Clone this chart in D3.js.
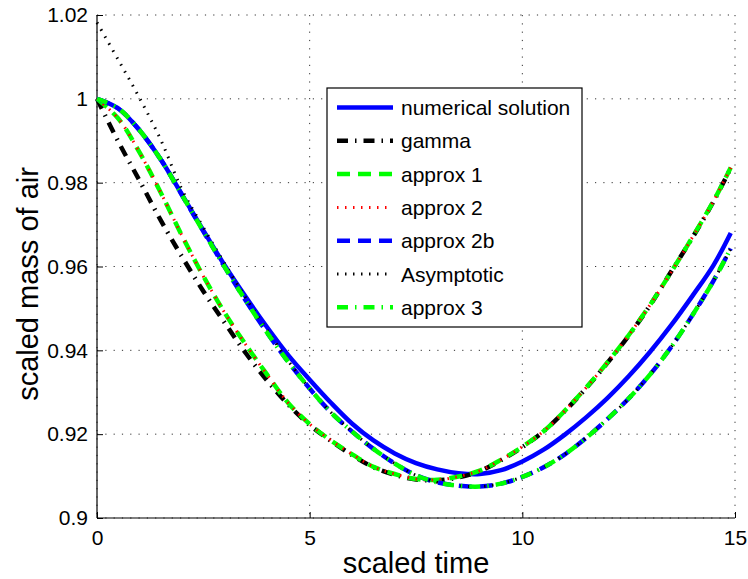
<!DOCTYPE html>
<html>
<head>
<meta charset="utf-8">
<script src="https://cdn.jsdelivr.net/npm/d3@7"></script>
<style>
	body { margin: 0; background: #fff; }
	svg { font-family: "Liberation Sans", Arial, Helvetica, sans-serif; display: block; }
</style>
</head>
<body>
<div id="chart"></div>
<script>
// values (scaled time vs scaled mass of air)
const scaledTime = [0, 0.5, 1, 1.5, 2, 2.5, 3, 3.5, 4, 4.5, 5, 5.5, 6, 6.5, 7, 7.5, 8, 8.5, 9, 9.5, 10, 10.5, 11, 11.5, 12, 12.5, 13, 13.5, 14, 14.5, 14.9];

const numericalSolution = [1.0000, 0.9977, 0.9925, 0.9855, 0.9771, 0.9686, 0.9603, 0.9527, 0.9455, 0.9388, 0.9330, 0.9275, 0.9225, 0.9185, 0.9154, 0.9131, 0.9116, 0.9107, 0.9105, 0.9114, 0.9135, 0.9163, 0.9199, 0.9240, 0.9286, 0.9338, 0.9396, 0.9460, 0.9530, 0.9604, 0.9680];
const gammaValues = [1.0000, 0.9898, 0.9805, 0.9710, 0.9623, 0.9541, 0.9466, 0.9393, 0.9328, 0.9270, 0.9222, 0.9184, 0.9150, 0.9121, 0.9103, 0.9092, 0.9090, 0.9097, 0.9112, 0.9138, 0.9169, 0.9207, 0.9255, 0.9310, 0.9370, 0.9435, 0.9507, 0.9588, 0.9669, 0.9756, 0.9835];
const approx1Values = [1.0000, 0.9953, 0.9872, 0.9776, 0.9673, 0.9577, 0.9490, 0.9413, 0.9342, 0.9274, 0.9224, 0.9185, 0.9152, 0.9122, 0.9105, 0.9093, 0.9091, 0.9099, 0.9113, 0.9139, 0.9170, 0.9207, 0.9256, 0.9311, 0.9371, 0.9436, 0.9508, 0.9587, 0.9670, 0.9757, 0.9836];
const approx2Values = [1.0000, 0.9953, 0.9872, 0.9776, 0.9673, 0.9577, 0.9490, 0.9413, 0.9342, 0.9274, 0.9224, 0.9185, 0.9152, 0.9122, 0.9105, 0.9093, 0.9091, 0.9099, 0.9113, 0.9139, 0.9170, 0.9207, 0.9256, 0.9311, 0.9371, 0.9436, 0.9508, 0.9587, 0.9670, 0.9757, 0.9836];
const approx2bValues = [1.0000, 0.9977, 0.9925, 0.9855, 0.9770, 0.9684, 0.9599, 0.9518, 0.9442, 0.9372, 0.9309, 0.9252, 0.9206, 0.9165, 0.9130, 0.9102, 0.9085, 0.9077, 0.9075, 0.9082, 0.9098, 0.9121, 0.9152, 0.9191, 0.9236, 0.9285, 0.9342, 0.9408, 0.9484, 0.9567, 0.9643];
const asymptoticValues = [1.0182, 1.0093, 1.0002, 0.9902, 0.9783, 0.9693, 0.9607, 0.9525, 0.9448, 0.9374, 0.9309, 0.9252, 0.9206, 0.9165, 0.9130, 0.9102, 0.9085, 0.9077, 0.9075, 0.9082, 0.9098, 0.9121, 0.9152, 0.9191, 0.9236, 0.9285, 0.9342, 0.9408, 0.9484, 0.9567, 0.9643];
const approx3Values = [1.0000, 0.9977, 0.9925, 0.9855, 0.9770, 0.9684, 0.9599, 0.9518, 0.9442, 0.9372, 0.9309, 0.9252, 0.9206, 0.9165, 0.9130, 0.9102, 0.9085, 0.9077, 0.9075, 0.9082, 0.9098, 0.9121, 0.9152, 0.9191, 0.9236, 0.9285, 0.9342, 0.9408, 0.9484, 0.9567, 0.9643];

const seriesNames = ['numerical solution', 'gamma', 'approx 1', 'approx 2', 'approx 2b', 'Asymptotic', 'approx 3'];
const seriesValues = [numericalSolution, gammaValues, approx1Values, approx2Values, approx2bValues, asymptoticValues, approx3Values];

const xTickValues = [0, 5, 10, 15];
const yTickValues = [0.9, 0.92, 0.94, 0.96, 0.98, 1, 1.02];
const xLabel = 'scaled time';
const yLabel = 'scaled mass of air';

// line look per series (matlab-ish)
const lineStyles = {
	'numerical solution': {color: '#0000ff', width: 4.5, dash: null},
	'gamma': {color: '#000000', width: 4.5, dash: '11,7,1.5,7'},
	'approx 1': {color: '#00ff00', width: 4.5, dash: '13,8'},
	'approx 2': {color: '#ff0000', width: 3, dash: '1.5,6.5'},
	'approx 2b': {color: '#0000ff', width: 4.5, dash: '13,8'},
	'Asymptotic': {color: '#000000', width: 3, dash: '1.5,6.5'},
	'approx 3': {color: '#00ff00', width: 4.5, dash: '11,7,1.5,7'}
};

const config = {
	containerWidth: 748,
	containerHeight: 579,
	margin: {top: 15, right: 13, bottom: 61, left: 97}
};
const width = config.containerWidth - config.margin.left - config.margin.right;
const height = config.containerHeight - config.margin.top - config.margin.bottom;

const svg = d3.select('#chart').append('svg')
	.attr('width', config.containerWidth)
	.attr('height', config.containerHeight);

const chartArea = svg.append('g')
	.attr('transform', `translate(${config.margin.left},${config.margin.top})`);

const xScale = d3.scaleLinear().domain([0, 15]).range([0, width]);
const yScale = d3.scaleLinear().domain([0.9, 1.02]).range([height, 0]);

//Dotted grid
chartArea.append('g').attr('class', 'grid')
	.selectAll('line.hgrid')
	.data(yTickValues)
	.join('line')
	.attr('x1', 0).attr('x2', width)
	.attr('y1', d => yScale(d)).attr('y2', d => yScale(d))
	.attr('stroke', '#333').attr('stroke-width', 1)
	.attr('stroke-dasharray', '1.2,7.1');

chartArea.append('g').attr('class', 'grid')
	.selectAll('line.vgrid')
	.data(xTickValues)
	.join('line')
	.attr('y1', 0).attr('y2', height)
	.attr('x1', d => xScale(d)).attr('x2', d => xScale(d))
	.attr('stroke', '#333').attr('stroke-width', 1)
	.attr('stroke-dasharray', '1.2,7.1');

//Axes, ticks pointing inward
const xAxis = d3.axisBottom(xScale).tickValues(xTickValues).tickSize(-6).tickPadding(12).tickFormat(d3.format('d'));
const yAxis = d3.axisLeft(yScale).tickValues(yTickValues).tickSize(-6).tickPadding(9).tickFormat(d => d === 1 ? '1' : d3.format('.2f')(d).replace(/0$/, d === 0.9 ? '' : '0'));

const gx = chartArea.append('g')
	.attr('class', 'x-axis')
	.attr('transform', `translate(0,${height})`)
	.call(xAxis);
const gy = chartArea.append('g')
	.attr('class', 'y-axis')
	.call(yAxis);

[gx, gy].forEach(g => {
	g.select('.domain').attr('stroke', '#000').attr('stroke-width', 1.2);
	g.selectAll('.tick line').attr('stroke', '#000');
	g.selectAll('.tick text').attr('font-size', 21).attr('fill', '#000')
		.attr('font-family', '"Liberation Sans", Arial, sans-serif');
});
gy.select('.domain').attr('d', `M0,0V${height}`);
gx.select('.domain').attr('d', `M0,0H${width}`);

//Curves
const line = d3.line()
	.x(d => xScale(d[0]))
	.y(d => yScale(d[1]))
	.curve(d3.curveCatmullRom.alpha(0.5));

seriesNames.forEach((name, i) => {
	const st = lineStyles[name];
	chartArea.append('path')
		.datum(scaledTime.map((t, j) => [t, seriesValues[i][j]]))
		.attr('fill', 'none')
		.attr('stroke', st.color)
		.attr('stroke-width', st.width)
		.attr('stroke-dasharray', st.dash)
		.attr('d', line);
});

//Legend
const legend = svg.append('g').attr('transform', 'translate(327,88)');
legend.append('rect')
	.attr('width', 255).attr('height', 239)
	.attr('fill', '#fff').attr('stroke', '#000').attr('stroke-width', 1.2);

seriesNames.forEach((name, i) => {
	const st = lineStyles[name];
	const y = 19.5 + i * 33.3;
	legend.append('line')
		.attr('x1', 10).attr('x2', 66)
		.attr('y1', y).attr('y2', y)
		.attr('stroke', st.color)
		.attr('stroke-width', st.width)
		.attr('stroke-dasharray', st.dash);
	legend.append('text')
		.attr('x', 74).attr('y', y + 7.5)
		.attr('font-size', 21)
		.text(name);
});

//Axis labels
svg.append('text')
	.attr('x', config.margin.left + width / 2)
	.attr('y', 573)
	.attr('text-anchor', 'middle')
	.attr('font-size', 29)
	.text(xLabel);

svg.append('text')
	.attr('transform', 'translate(38,284) rotate(-90)')
	.attr('text-anchor', 'middle')
	.attr('font-size', 29)
	.text(yLabel);
</script>
</body>
</html>
